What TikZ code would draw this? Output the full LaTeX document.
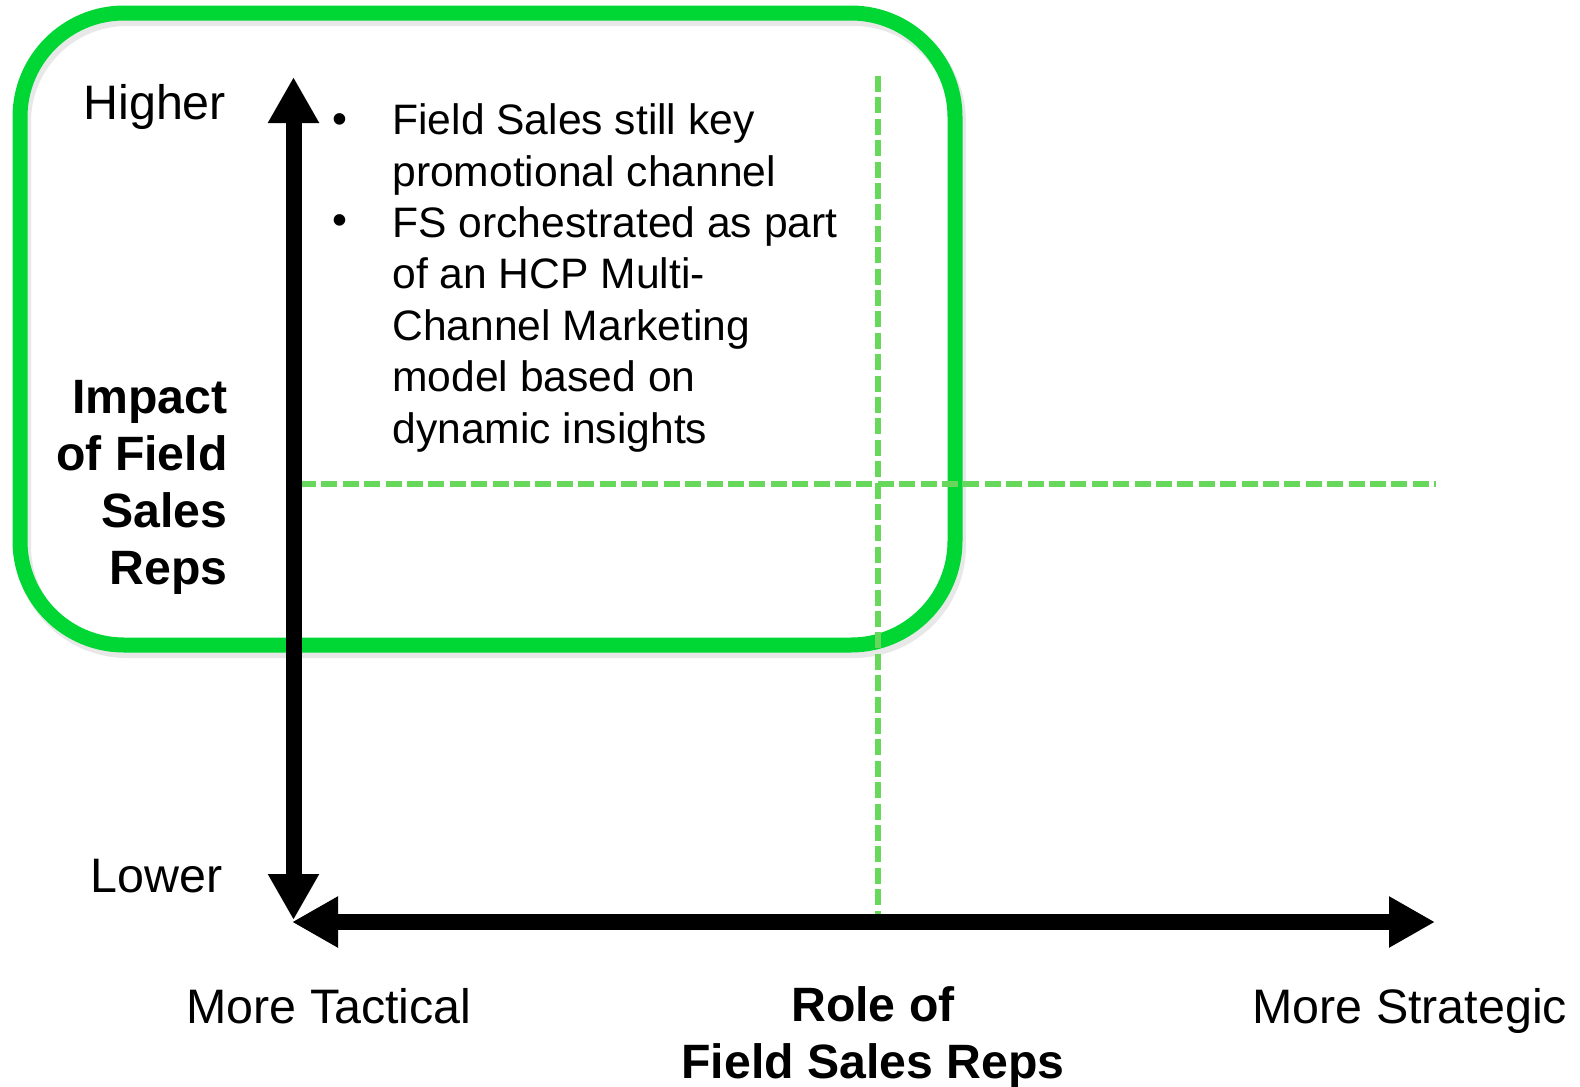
\documentclass[tikz,border=0pt]{standalone}
\usepackage{fontspec}
\setmainfont{Liberation Sans}
\usepackage{xcolor}
\usetikzlibrary{arrows.meta}

\definecolor{boxgreen}{RGB}{0,214,52}
\definecolor{gridgreen}{RGB}{104,216,92}

\tikzset{
  lbl/.style={inner sep=0pt,font=\fontsize{24.2}{25.7}\selectfont},
  bold lbl/.style={inner sep=0pt,font=\fontsize{24.1}{28.5}\selectfont\bfseries},
  body/.style={inner sep=0pt,font=\fontsize{21.3}{25.7}\selectfont},
  axis/.style={line width=8pt,black,{Triangle[length=23pt,width=24pt]}-{Triangle[length=23pt,width=24pt]}},
  grid line/.style={gridgreen,line width=2.7pt,dash pattern=on 8pt off 2.7pt},
  grid shadow/.style={grid line,gray,opacity=0.15,yshift=-2pt},
}

\begin{document}
\begin{tikzpicture}[x=0.5pt,y=-0.5pt]
  \useasboundingbox (0,0) rectangle (1580,1087);

  % highlighted quadrant
  \draw[gray,opacity=0.18,line width=8pt,rounded corners=52pt] (23,18) rectangle (958,650);
  \draw[boxgreen,line width=7.5pt,rounded corners=52pt] (20,13) rectangle (955,645);

  % quadrant split
  \coordinate (vtop) at (878,76);
  \coordinate (vbot) at (878,918);
  \coordinate (hleft) at (300,484);
  \coordinate (hright) at (1436,484);
  \draw[grid shadow] (vtop) -- (vbot);
  \draw[grid shadow] (hleft) -- (hright);
  \draw[grid line] (vtop) -- (vbot);
  \draw[grid line] (hleft) -- (hright);

  % axes
  \coordinate (ytop) at (293.5,77);
  \coordinate (ybot) at (293.5,920);
  \coordinate (xleft) at (292,922);
  \coordinate (xright) at (1435,922);
  \draw[axis] (ybot) -- (ytop);
  \draw[axis] (xleft) -- (xright);

  % axis labels
  \node[lbl,anchor=base west] (higher) at (83,119) {Higher};
  \node[lbl,anchor=base west] (lower) at (90,892) {Lower};
  \node[bold lbl,anchor=base east,align=right] (impact) at (228,584) {Impact\\of Field\\Sales\\Reps};
  \node[lbl,anchor=base west] (tactical) at (186,1023) {More Tactical};
  \node[lbl,anchor=base west] (strategic) at (1252,1023) {More Strategic};
  \node[bold lbl,anchor=base,align=center] (role) at (873,1078) {Role of\\Field Sales Reps};

  % bullet points
  \node[body] (b1) at (340,124) {\textbullet};
  \node[body] (b2) at (340,225) {\textbullet};
  \node[body,anchor=base west,align=left] (t1) at (392,186) {Field Sales still key\\promotional channel};
  \node[body,anchor=base west,align=left] (t2) at (392,443) {FS orchestrated as part\\of an HCP Multi-\\Channel Marketing\\model based on\\dynamic insights};
\end{tikzpicture}
\end{document}
